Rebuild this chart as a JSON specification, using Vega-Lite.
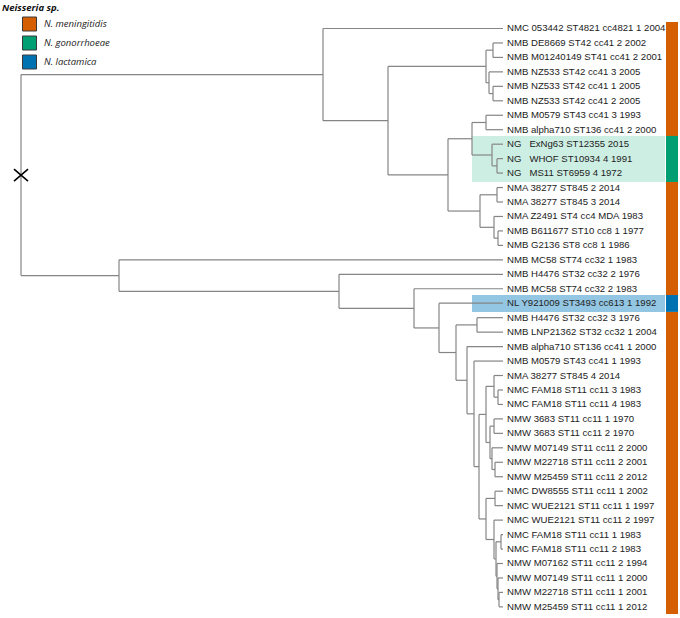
{
  "$schema": "https://vega.github.io/schema/vega-lite/v6.json",
  "width": 680,
  "height": 618,
  "autosize": "none",
  "padding": 0,
  "background": "white",
  "config": {"view": {"stroke": null}},
  "datasets": {
    "verticals": [
      {"depth": 0, "top": 4.1875, "bottom": 18.09},
      {"depth": 302, "top": 1, "bottom": 7.375},
      {"depth": 367, "top": 3.625, "bottom": 11.125},
      {"depth": 465, "top": 2.5, "bottom": 4.75},
      {"depth": 472, "top": 2, "bottom": 3},
      {"depth": 468, "top": 4, "bottom": 5.5},
      {"depth": 472, "top": 5, "bottom": 6},
      {"depth": 427, "top": 8.625, "bottom": 13.625},
      {"depth": 451, "top": 7.5, "bottom": 9.75},
      {"depth": 465, "top": 7, "bottom": 8},
      {"depth": 471, "top": 9, "bottom": 10.5},
      {"depth": 476, "top": 10, "bottom": 11},
      {"depth": 459, "top": 12.5, "bottom": 14.75},
      {"depth": 476, "top": 12, "bottom": 13},
      {"depth": 473, "top": 14, "bottom": 15.5},
      {"depth": 477, "top": 15, "bottom": 16},
      {"depth": 98, "top": 17, "bottom": 19.18},
      {"depth": 318, "top": 18, "bottom": 20.35},
      {"depth": 393, "top": 19, "bottom": 21.71},
      {"depth": 418, "top": 20, "bottom": 23.41},
      {"depth": 435, "top": 21.5, "bottom": 25.33},
      {"depth": 456, "top": 21, "bottom": 22},
      {"depth": 446, "top": 23, "bottom": 27.65},
      {"depth": 453, "top": 24, "bottom": 31.3},
      {"depth": 458, "top": 27.69, "bottom": 34.92},
      {"depth": 465, "top": 25.75, "bottom": 29.63},
      {"depth": 473, "top": 25, "bottom": 26.5},
      {"depth": 477, "top": 26, "bottom": 27},
      {"depth": 469, "top": 28.5, "bottom": 30.75},
      {"depth": 473, "top": 28, "bottom": 29},
      {"depth": 471, "top": 30, "bottom": 31.5},
      {"depth": 474, "top": 31, "bottom": 32},
      {"depth": 465, "top": 33.5, "bottom": 36.34},
      {"depth": 474, "top": 33, "bottom": 34},
      {"depth": 473, "top": 35, "bottom": 37.69},
      {"depth": 475, "top": 36.5, "bottom": 38.875},
      {"depth": 480, "top": 36, "bottom": 37},
      {"depth": 476, "top": 38, "bottom": 39.75},
      {"depth": 477, "top": 39, "bottom": 40.5},
      {"depth": 478, "top": 40, "bottom": 41}
    ],
    "horizontals": [
      {"from": 0, "to": 302, "row": 4.1875},
      {"from": 0, "to": 98, "row": 18.09},
      {"from": 302, "to": 482, "row": 1},
      {"from": 302, "to": 367, "row": 7.375},
      {"from": 367, "to": 465, "row": 3.625},
      {"from": 367, "to": 427, "row": 11.125},
      {"from": 465, "to": 472, "row": 2.5},
      {"from": 465, "to": 468, "row": 4.75},
      {"from": 472, "to": 482, "row": 2},
      {"from": 472, "to": 482, "row": 3},
      {"from": 468, "to": 482, "row": 4},
      {"from": 468, "to": 472, "row": 5.5},
      {"from": 472, "to": 482, "row": 5},
      {"from": 472, "to": 482, "row": 6},
      {"from": 427, "to": 451, "row": 8.625},
      {"from": 427, "to": 459, "row": 13.625},
      {"from": 451, "to": 465, "row": 7.5},
      {"from": 451, "to": 471, "row": 9.75},
      {"from": 465, "to": 482, "row": 7},
      {"from": 465, "to": 482, "row": 8},
      {"from": 471, "to": 482, "row": 9},
      {"from": 471, "to": 476, "row": 10.5},
      {"from": 476, "to": 482, "row": 10},
      {"from": 476, "to": 482, "row": 11},
      {"from": 459, "to": 476, "row": 12.5},
      {"from": 459, "to": 473, "row": 14.75},
      {"from": 476, "to": 482, "row": 12},
      {"from": 476, "to": 482, "row": 13},
      {"from": 473, "to": 482, "row": 14},
      {"from": 473, "to": 477, "row": 15.5},
      {"from": 477, "to": 482, "row": 15},
      {"from": 477, "to": 482, "row": 16},
      {"from": 98, "to": 482, "row": 17},
      {"from": 98, "to": 318, "row": 19.18},
      {"from": 318, "to": 482, "row": 18},
      {"from": 318, "to": 393, "row": 20.35},
      {"from": 393, "to": 482, "row": 19},
      {"from": 393, "to": 418, "row": 21.71},
      {"from": 418, "to": 482, "row": 20},
      {"from": 418, "to": 435, "row": 23.41},
      {"from": 435, "to": 456, "row": 21.5},
      {"from": 435, "to": 446, "row": 25.33},
      {"from": 456, "to": 482, "row": 21},
      {"from": 456, "to": 482, "row": 22},
      {"from": 446, "to": 482, "row": 23},
      {"from": 446, "to": 453, "row": 27.65},
      {"from": 453, "to": 482, "row": 24},
      {"from": 453, "to": 458, "row": 31.3},
      {"from": 458, "to": 465, "row": 27.69},
      {"from": 458, "to": 465, "row": 34.92},
      {"from": 465, "to": 473, "row": 25.75},
      {"from": 465, "to": 469, "row": 29.63},
      {"from": 473, "to": 482, "row": 25},
      {"from": 473, "to": 477, "row": 26.5},
      {"from": 477, "to": 482, "row": 26},
      {"from": 477, "to": 482, "row": 27},
      {"from": 469, "to": 473, "row": 28.5},
      {"from": 469, "to": 471, "row": 30.75},
      {"from": 473, "to": 482, "row": 28},
      {"from": 473, "to": 482, "row": 29},
      {"from": 471, "to": 482, "row": 30},
      {"from": 471, "to": 474, "row": 31.5},
      {"from": 474, "to": 482, "row": 31},
      {"from": 474, "to": 482, "row": 32},
      {"from": 465, "to": 474, "row": 33.5},
      {"from": 465, "to": 473, "row": 36.34},
      {"from": 474, "to": 482, "row": 33},
      {"from": 474, "to": 482, "row": 34},
      {"from": 473, "to": 482, "row": 35},
      {"from": 473, "to": 475, "row": 37.69},
      {"from": 475, "to": 480, "row": 36.5},
      {"from": 475, "to": 476, "row": 38.875},
      {"from": 480, "to": 482, "row": 36},
      {"from": 480, "to": 482, "row": 37},
      {"from": 476, "to": 482, "row": 38},
      {"from": 476, "to": 477, "row": 39.75},
      {"from": 477, "to": 482, "row": 39},
      {"from": 477, "to": 478, "row": 40.5},
      {"from": 478, "to": 482, "row": 40},
      {"from": 478, "to": 482, "row": 41}
    ],
    "tips": [
      {"row": 1, "label": "NMC 053442 ST4821 cc4821 1 2004"},
      {"row": 2, "label": "NMB DE8669 ST42 cc41 2 2002"},
      {"row": 3, "label": "NMB M01240149 ST41 cc41 2 2001"},
      {"row": 4, "label": "NMB NZ533 ST42 cc41 3 2005"},
      {"row": 5, "label": "NMB NZ533 ST42 cc41 1 2005"},
      {"row": 6, "label": "NMB NZ533 ST42 cc41 2 2005"},
      {"row": 7, "label": "NMB M0579 ST43 cc41 3 1993"},
      {"row": 8, "label": "NMB alpha710 ST136 cc41 2 2000"},
      {"row": 9, "label": "NG\u00a0\u00a0\u00a0ExNg63 ST12355 2015"},
      {"row": 10, "label": "NG\u00a0\u00a0\u00a0WHOF ST10934 4 1991"},
      {"row": 11, "label": "NG\u00a0\u00a0\u00a0MS11 ST6959 4 1972"},
      {"row": 12, "label": "NMA 38277 ST845 2 2014"},
      {"row": 13, "label": "NMA 38277 ST845 3 2014"},
      {"row": 14, "label": "NMA Z2491 ST4 cc4 MDA 1983"},
      {"row": 15, "label": "NMB B611677 ST10 cc8 1 1977"},
      {"row": 16, "label": "NMB G2136 ST8 cc8 1 1986"},
      {"row": 17, "label": "NMB MC58 ST74 cc32 1 1983"},
      {"row": 18, "label": "NMB H4476 ST32 cc32 2 1976"},
      {"row": 19, "label": "NMB MC58 ST74 cc32 2 1983"},
      {"row": 20, "label": "NL Y921009 ST3493 cc613 1 1992"},
      {"row": 21, "label": "NMB H4476 ST32 cc32 3 1976"},
      {"row": 22, "label": "NMB LNP21362 ST32 cc32 1 2004"},
      {"row": 23, "label": "NMB alpha710 ST136 cc41 1 2000"},
      {"row": 24, "label": "NMB M0579 ST43 cc41 1 1993"},
      {"row": 25, "label": "NMA 38277 ST845 4 2014"},
      {"row": 26, "label": "NMC FAM18 ST11 cc11 3 1983"},
      {"row": 27, "label": "NMC FAM18 ST11 cc11 4 1983"},
      {"row": 28, "label": "NMW 3683 ST11 cc11 1 1970"},
      {"row": 29, "label": "NMW 3683 ST11 cc11 2 1970"},
      {"row": 30, "label": "NMW M07149 ST11 cc11 2 2000"},
      {"row": 31, "label": "NMW M22718 ST11 cc11 2 2001"},
      {"row": 32, "label": "NMW M25459 ST11 cc11 2 2012"},
      {"row": 33, "label": "NMC DW8555 ST11 cc11 1 2002"},
      {"row": 34, "label": "NMC WUE2121 ST11 cc11 1 1997"},
      {"row": 35, "label": "NMC WUE2121 ST11 cc11 2 1997"},
      {"row": 36, "label": "NMC FAM18 ST11 cc11 1 1983"},
      {"row": 37, "label": "NMC FAM18 ST11 cc11 2 1983"},
      {"row": 38, "label": "NMW M07162 ST11 cc11 2 1994"},
      {"row": 39, "label": "NMW M07149 ST11 cc11 1 2000"},
      {"row": 40, "label": "NMW M22718 ST11 cc11 1 2001"},
      {"row": 41, "label": "NMW M25459 ST11 cc11 1 2012"}
    ],
    "bands": [
      {"species": "N. meningitidis", "top": 0.55, "bottom": 8.43},
      {"species": "N. gonorrhoeae", "top": 8.43, "bottom": 11.62},
      {"species": "N. meningitidis", "top": 11.62, "bottom": 19.43},
      {"species": "N. lactamica", "top": 19.43, "bottom": 20.6},
      {"species": "N. meningitidis", "top": 20.6, "bottom": 41.5}
    ],
    "highlights": [
      {"species": "N. gonorrhoeae", "top": 8.43, "bottom": 11.62},
      {"species": "N. lactamica", "top": 19.43, "bottom": 20.6}
    ]
  },
  "resolve": {"scale": {"fill": "independent"}},
  "layer": [
    {
      "data": {"name": "highlights"},
      "mark": {"type": "rect"},
      "encoding": {
        "x": {"datum": 451, "type": "quantitative", "scale": {"domain": [-21, 659], "nice": false, "zero": false}, "axis": null},
        "x2": {"datum": 644},
        "y": {"field": "top", "type": "quantitative", "scale": {"domain": [-0.971, 41.77], "reverse": true, "nice": false, "zero": false}, "axis": null},
        "y2": {"field": "bottom"},
        "fill": {"field": "species", "type": "nominal", "scale": {"domain": ["N. gonorrhoeae", "N. lactamica"], "range": ["#cdeee3", "#93c6e2"]}, "legend": null}
      }
    },
    {
      "data": {"name": "verticals"},
      "mark": {"type": "rule", "color": "#858585", "strokeWidth": 1.2},
      "encoding": {
        "x": {"field": "depth", "type": "quantitative"},
        "y": {"field": "top", "type": "quantitative"},
        "y2": {"field": "bottom"}
      }
    },
    {
      "data": {"name": "horizontals"},
      "mark": {"type": "rule", "color": "#858585", "strokeWidth": 1.2},
      "encoding": {
        "x": {"field": "from", "type": "quantitative"},
        "x2": {"field": "to"},
        "y": {"field": "row", "type": "quantitative"}
      }
    },
    {
      "data": {"name": "tips"},
      "mark": {"type": "text", "align": "left", "baseline": "middle", "dx": 4, "font": "Liberation Sans", "fontSize": 9.6, "color": "#222222"},
      "encoding": {
        "x": {"datum": 482, "type": "quantitative"},
        "y": {"field": "row", "type": "quantitative"},
        "text": {"field": "label", "type": "nominal"}
      }
    },
    {
      "data": {"name": "bands"},
      "mark": {"type": "rect"},
      "encoding": {
        "x": {"datum": 645, "type": "quantitative"},
        "x2": {"datum": 657},
        "y": {"field": "top", "type": "quantitative"},
        "y2": {"field": "bottom"},
        "color": {
          "field": "species",
          "type": "nominal",
          "scale": {"domain": ["N. meningitidis", "N. gonorrhoeae", "N. lactamica"], "range": ["#d55e00", "#009e73", "#0072b2"]},
          "legend": {
            "title": "Neisseria sp.",
            "orient": "none",
            "legendX": 2,
            "legendY": 3,
            "padding": 0,
            "symbolType": "square",
            "symbolSize": 196,
            "symbolOffset": 20,
            "symbolStrokeColor": "#3a3a3a",
            "symbolStrokeWidth": 1,
            "symbolOpacity": 1,
            "labelOffset": 7,
            "rowPadding": 0,
            "titlePadding": 4,
            "titleFont": "Open Sans",
            "titleFontSize": 9.5,
            "titleFontStyle": "italic",
            "titleFontWeight": "bold",
            "titleColor": "#111111",
            "labelFont": "Open Sans",
            "labelFontSize": 9.5,
            "labelFontStyle": "italic",
            "labelColor": "#222222"
          }
        }
      }
    },
    {
      "data": {"values": [{"depth": 0, "row": 11.14}]},
      "mark": {"type": "point", "shape": "M-1,-0.85L1,0.85M-1,0.85L1,-0.85", "size": 196, "filled": false, "color": "#000000", "strokeWidth": 1.6, "opacity": 1},
      "encoding": {
        "x": {"field": "depth", "type": "quantitative"},
        "y": {"field": "row", "type": "quantitative"}
      }
    }
  ]
}
